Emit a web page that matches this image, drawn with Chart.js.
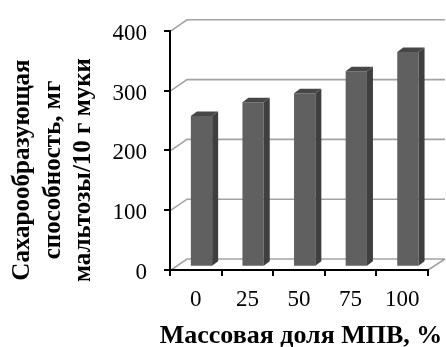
<!DOCTYPE html>
<html lang="ru">
<head>
<meta charset="utf-8">
<script src="https://cdn.jsdelivr.net/npm/chart.js@4/dist/chart.umd.min.js"></script>
<style>
  html, body { margin: 0; padding: 0; background: #ffffff; }
  #wrap { width: 446px; height: 347px; }
</style>
</head>
<body>
<div id="wrap"><canvas id="chart" width="446" height="347"></canvas></div>
<script>
// Массовая доля МПВ, % (categories)
const categories = ['0', '25', '50', '75', '100'];
// Сахарообразующая способность, мг мальтозы / 10 г муки
const saccharifyingValues = [252, 275, 290, 327, 359];
// Value axis ticks
const yTicks = [0, 100, 200, 300, 400];

const yTitleLines = ['Сахарообразующая', 'способность, мг', 'мальтозы/10 г муки'];
const xTitle = 'Массовая доля МПВ, %';

// Pseudo-3D geometry: depth of the wall box and where the bars sit in it
const DEPTH = { dx: 17, dy: -11 };
const BAR_SHIFT = { dx: 5.7, dy: -3.3 };
const BAR_DEPTH = { dx: 6, dy: -4.5 };

const SERIF = '"Liberation Serif", "Times New Roman", serif';

// Back wall gridlines, left wall diagonals and floor edge
const wallsPlugin = {
  id: 'walls',
  beforeDraw(chart) {
    const { ctx, chartArea: a, scales: { y } } = chart;
    ctx.save();
    ctx.strokeStyle = '#a3a3a3';
    ctx.lineWidth = 1.6;
    ctx.beginPath();
    y.ticks.forEach(t => {
      const py = y.getPixelForValue(t.value);
      ctx.moveTo(a.left + 1, py);
      ctx.lineTo(a.left + DEPTH.dx, py + DEPTH.dy);
      ctx.lineTo(a.right + DEPTH.dx, py + DEPTH.dy);
    });
    ctx.moveTo(a.right, a.bottom);
    ctx.lineTo(a.right + DEPTH.dx, a.bottom + DEPTH.dy);
    ctx.stroke();
    ctx.restore();
  }
};

// Bars are pushed into the box depth; side and top faces added
const barsPlugin = {
  id: 'bars3d',
  beforeDatasetsDraw(chart) {
    chart.ctx.save();
    chart.ctx.translate(BAR_SHIFT.dx, BAR_SHIFT.dy);
  },
  afterDatasetsDraw(chart) {
    const ctx = chart.ctx;
    chart.getDatasetMeta(0).data.forEach(bar => {
      const { x, y, base, width } = bar.getProps(['x', 'y', 'base', 'width'], true);
      const l = x - width / 2, r = x + width / 2;
      const { dx, dy } = BAR_DEPTH;
      // side face
      ctx.fillStyle = '#3f3f3f';
      ctx.beginPath();
      ctx.moveTo(r, y);
      ctx.lineTo(r + dx, y + dy);
      ctx.lineTo(r + dx, base + dy);
      ctx.lineTo(r, base);
      ctx.closePath();
      ctx.fill();
      // top face
      ctx.fillStyle = '#474747';
      ctx.beginPath();
      ctx.moveTo(l, y);
      ctx.lineTo(l + dx, y + dy);
      ctx.lineTo(r + dx, y + dy);
      ctx.lineTo(r, y);
      ctx.closePath();
      ctx.fill();
    });
    ctx.restore();
  }
};

// Axis titles
const titlesPlugin = {
  id: 'axisTitles',
  afterDraw(chart) {
    const ctx = chart.ctx;
    ctx.save();
    ctx.fillStyle = '#000000';
    ctx.textAlign = 'center';
    ctx.textBaseline = 'alphabetic';
    ctx.font = 'bold 25px ' + SERIF;
    const baselines = [29, 60, 90];
    yTitleLines.forEach((line, i) => {
      ctx.save();
      ctx.translate(baselines[i], 170);
      ctx.rotate(-Math.PI / 2);
      ctx.fillText(line, 0, 0);
      ctx.restore();
    });
    ctx.font = 'bold 26px ' + SERIF;
    ctx.fillText(xTitle, 301, 343);
    ctx.restore();
  }
};

new Chart(document.getElementById('chart'), {
  type: 'bar',
  data: {
    labels: categories,
    datasets: [{
      data: saccharifyingValues,
      backgroundColor: '#606060',
      borderWidth: 0,
      barPercentage: 0.413,
      categoryPercentage: 1.0,
      clip: false
    }]
  },
  options: {
    responsive: false,
    devicePixelRatio: 1,
    animation: false,
    events: [],
    layout: { padding: { top: 26, right: 18, left: 0, bottom: 0 } },
    plugins: { legend: { display: false }, tooltip: { enabled: false } },
    scales: {
      x: {
        offset: true,
        grid: { offset: true, drawOnChartArea: false, drawTicks: true, tickLength: 6, color: '#000000', lineWidth: 2 },
        border: { display: true, color: '#000000', width: 2 },
        ticks: { color: '#000000', font: { family: SERIF, size: 23 }, padding: 10, maxRotation: 0 },
        afterFit(scale) { scale.height = 77; }
      },
      y: {
        min: 0,
        max: 400,
        afterBuildTicks(scale) { scale.ticks = yTicks.map(v => ({ value: v })); },
        grid: { drawOnChartArea: false, drawTicks: true, tickLength: 6, color: '#000000', lineWidth: 2 },
        border: { display: true, color: '#000000', width: 2 },
        ticks: { color: '#000000', font: { family: SERIF, size: 23 }, padding: 17, labelOffset: 3 },
        afterFit(scale) { scale.width = 170; }
      }
    }
  },
  plugins: [wallsPlugin, barsPlugin, titlesPlugin]
});
</script>
</body>
</html>
